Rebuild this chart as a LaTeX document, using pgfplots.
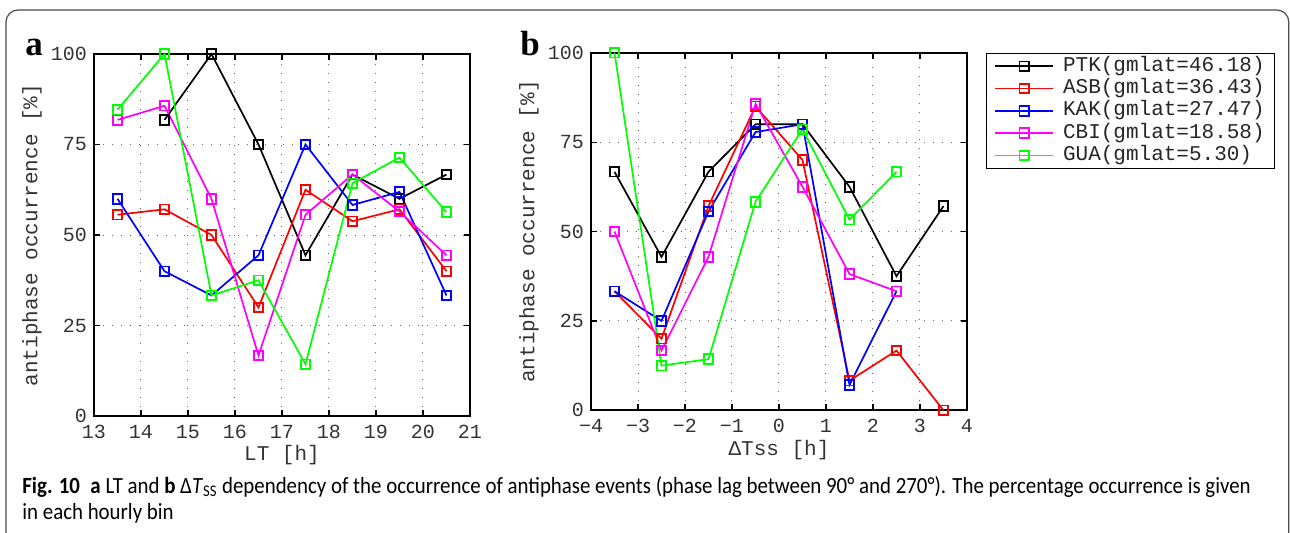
\documentclass[border=0pt]{standalone}
\usepackage{pgfplots}
\pgfplotsset{compat=1.18}
\usepackage{fontspec}
\setmainfont{Liberation Mono}
\newfontfamily\capfont{Carlito}
\newfontfamily\serifb{Liberation Serif}
\definecolor{mgreen}{RGB}{0,255,0}
\definecolor{mmag}{RGB}{255,0,255}
\pgfplotsset{
 myax/.style={
  scale only axis, width=188pt,
  ymin=0, ymax=100, ytick={0,25,50,75,100},
  grid=major,
  major grid style={black!60, line width=0.5pt, dash pattern=on 0.6pt off 3.9pt},
  axis line style={line width=0.9pt},
  tick style={black, line width=0.6pt},
  major tick length=3pt,
  tick align=inside,
  /pgf/number format/assume math mode=true,
  tick label style={font=\fontsize{10}{12}\selectfont, text=black!80},
  xticklabel style={yshift=-1pt},
  label style={font=\fontsize{10.5}{12}\selectfont, text=black!80},
  ylabel={antiphase occurrence [\%]},
  clip=false,
  every axis plot/.append style={line width=0.85pt, mark=square, mark size=2.4pt, mark options={line width=0.9pt, solid}},
 }
}
\begin{document}
\begin{tikzpicture}[x=1pt,y=1pt]
\useasboundingbox (0,0) rectangle (645,266);
\draw[black!70, line width=0.6pt, rounded corners=6pt] (3,-6) rectangle (644.4,261);
\begin{axis}[myax, at={(47pt,58pt)}, anchor=south west, height=181pt,
  xmin=13, xmax=21, xtick={13,14,...,21},
  xlabel={LT [h]},
  xlabel style={at={(axis description cs:0.5,-0.108)}, anchor=center},
  ylabel style={at={(axis description cs:-0.165,0.5)}, anchor=center},
]
\addplot[black] coordinates {(14.5,81.8)(15.5,100)(16.5,75)(17.5,44.4)(18.5,66.7)(19.5,60)(20.5,66.7)};
\addplot[red] coordinates {(13.5,55.6)(14.5,57.1)(15.5,50)(16.5,30)(17.5,62.5)(18.5,53.8)(19.5,57.1)(20.5,40)};
\addplot[blue] coordinates {(13.5,60)(14.5,40)(15.5,33.3)(16.5,44.4)(17.5,75)(18.5,58.3)(19.5,61.9)(20.5,33.3)};
\addplot[mmag] coordinates {(13.5,81.8)(14.5,85.7)(15.5,60)(16.5,16.7)(17.5,55.6)(18.5,66.7)(19.5,56.5)(20.5,44.4)};
\addplot[mgreen] coordinates {(13.5,84.6)(14.5,100)(15.5,33.3)(16.5,37.5)(17.5,14.3)(18.5,64.3)(19.5,71.4)(20.5,56.3)};
\end{axis}
\begin{axis}[myax, at={(295.5pt,60.85pt)}, anchor=south west, height=178.8pt,
  xmin=-4, xmax=4, xtick={-4,-3,...,4},
  xticklabels={−4,−3,−2,−1,0,1,2,3,4},
  xlabel={ΔTss [h]},
  xlabel style={at={(axis description cs:0.5,-0.111)}, anchor=center},
  ylabel style={at={(axis description cs:-0.165,0.5)}, anchor=center},
  legend style={at={(axis description cs:1.0505,1)}, anchor=north west,
    draw=black, inner xsep=4pt, inner ysep=1pt,
    font=\fontsize{10.5}{12}\selectfont, text=black!85,
    nodes={inner sep=1pt, text height=7pt, text depth=2.15pt},
    /tikz/every odd column/.append style={column sep=3.5pt}},
  legend cell align=left,
  legend image code/.code={\draw[mark repeat=2,mark phase=2,line width=0.85pt,#1] plot coordinates {(0pt,0pt) (14.5pt,0pt) (29pt,0pt)};},
]
\addplot[black] coordinates {(-3.5,66.7)(-2.5,42.9)(-1.5,66.7)(-0.5,80)(0.5,80)(1.5,62.5)(2.5,37.5)(3.5,57.1)};
\addplot[red] coordinates {(-3.5,33.3)(-2.5,20)(-1.5,57.1)(-0.5,85)(0.5,70)(1.5,8.3)(2.5,16.7)(3.5,0)};
\addplot[blue] coordinates {(-3.5,33.3)(-2.5,25)(-1.5,55.6)(-0.5,77.8)(0.5,80)(1.5,7.1)(2.5,33.3)};
\addplot[mmag] coordinates {(-3.5,50)(-2.5,16.7)(-1.5,42.9)(-0.5,85.7)(0.5,62.5)(1.5,38.1)(2.5,33.3)};
\addplot[mgreen] coordinates {(-3.5,100)(-2.5,12.5)(-1.5,14.3)(-0.5,58.3)(0.5,78.6)(1.5,53.3)(2.5,66.7)};
\legend{PTK(gmlat=46.18),ASB(gmlat=36.43),KAK(gmlat=27.47),CBI(gmlat=18.58),GUA(gmlat=5.30)}
\end{axis}
\node[font=\serifb\bfseries\fontsize{17.5}{20}\selectfont, anchor=base, inner sep=0] at (17,238.5) {a};
\node[font=\serifb\bfseries\fontsize{17.5}{20}\selectfont, anchor=base, inner sep=0] at (265,238.5) {b};
\node[anchor=base west, inner sep=0] at (11,19.5) {\scalebox{0.9}[1]{\capfont\fontsize{11.6}{13}\selectfont \textbf{Fig. 10}\enspace\textbf{a} LT and \textbf{b} Δ\textit{T}\textsubscript{SS} dependency of the occurrence of antiphase events (phase lag between 90° and 270°). The percentage occurrence is given}};
\node[anchor=base west, inner sep=0] at (11,6.5) {\scalebox{0.9}[1]{\capfont\fontsize{11.6}{13}\selectfont in each hourly bin}};
\end{tikzpicture}
\end{document}
